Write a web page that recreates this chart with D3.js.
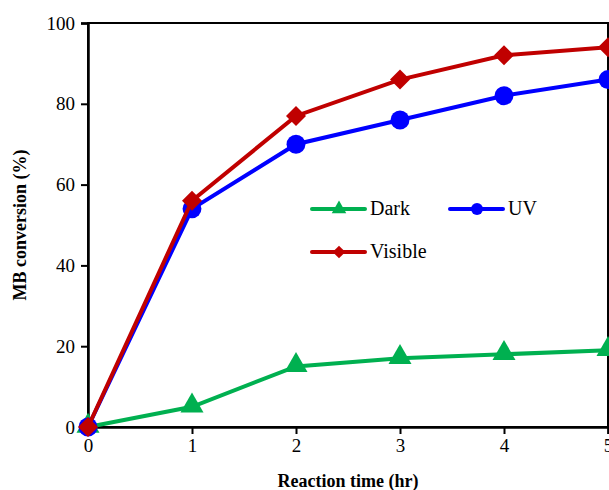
<!DOCTYPE html>
<html>
<head>
<meta charset="utf-8">
<script src="https://cdn.jsdelivr.net/npm/d3@7"></script>
<style>
  body { margin: 0; background: #fff; }
</style>
</head>
<body>
<div id="chart"></div>
<script>
// chart data
const times = [0, 1, 2, 3, 4, 5];
const dark = [0, 5, 15, 17, 18, 19];
const uv = [0, 54, 70, 76, 82, 86];
const visible = [0, 56, 77, 86, 92, 94];
const yTicks = [0, 20, 40, 60, 80, 100];

const width = 609;
const height = 490;
const margin = {left: 88, right: 1, top: 23, bottom: 63};
const serif = "Liberation Serif";

const svg = d3.select("#chart")
  .append("svg")
  .attr("width", width)
  .attr("height", height)
  .style("font-family", serif);

const xScale = d3.scaleLinear()
  .domain([0, 5])
  .range([margin.left, width - margin.right]);

const yScale = d3.scaleLinear()
  .domain([0, 100])
  .range([height - margin.bottom, margin.top]);

// frame
svg.append("rect")
  .attr("x", margin.left)
  .attr("y", margin.top)
  .attr("width", xScale(5) - margin.left)
  .attr("height", yScale(0) - margin.top)
  .attr("fill", "none")
  .attr("stroke", "#000")
  .attr("stroke-width", 2);

// axes
const xAxis = svg.append("g")
  .attr("transform", `translate(0,${yScale(0)})`)
  .call(d3.axisBottom(xScale).tickValues(times).tickSize(7).tickPadding(5).tickFormat(d3.format("d")));

const yAxis = svg.append("g")
  .attr("transform", `translate(${margin.left},0)`)
  .call(d3.axisLeft(yScale).tickValues(yTicks).tickSize(7).tickPadding(6));

[xAxis, yAxis].forEach(g => {
  g.attr("font-family", serif).attr("font-size", 19);
  g.select(".domain").attr("stroke-width", 2.5);
  g.selectAll(".tick line").attr("stroke-width", 2);
  g.selectAll(".tick text")
    .style("font-family", serif)
    .style("font-size", "19px")
    .attr("fill", "#000");
});

// axis titles
svg.append("text")
  .attr("x", (xScale(0) + xScale(5)) / 2)
  .attr("y", 487)
  .attr("text-anchor", "middle")
  .style("font-family", serif)
  .style("font-size", "18px")
  .style("font-weight", "bold")
  .text("Reaction time (hr)");

svg.append("text")
  .attr("transform", `translate(26,${(yScale(0) + yScale(100)) / 2}) rotate(-90)`)
  .attr("text-anchor", "middle")
  .style("font-family", serif)
  .style("font-size", "18px")
  .style("font-weight", "bold")
  .text("MB conversion (%)");

const series = [
  {name: "Dark", values: dark, color: "#00B050", symbol: d3.symbolTriangle, size: 230, rot: 0, dy: -1},
  {name: "UV", values: uv, color: "#0000FF", symbol: d3.symbolCircle, size: 280, rot: 0, dy: 0},
  {name: "Visible", values: visible, color: "#C00000", symbol: d3.symbolSquare, size: 200, rot: 45, dy: 0}
];

const line = d3.line()
  .x((d, i) => xScale(times[i]))
  .y(d => yScale(d));

series.forEach(s => {
  svg.append("path")
    .datum(s.values)
    .attr("fill", "none")
    .attr("stroke", s.color)
    .attr("stroke-width", 4)
    .attr("d", line);

  svg.selectAll(null)
    .data(s.values)
    .enter()
    .append("path")
    .attr("transform", (d, i) => `translate(${xScale(times[i])},${yScale(d) + s.dy}) rotate(${s.rot})`)
    .attr("d", d3.symbol().type(s.symbol).size(s.size))
    .attr("fill", s.color);
});

// legend
const legendPos = [
  {x: 312, y: 209},
  {x: 450, y: 209},
  {x: 312, y: 252}
];

series.forEach((s, i) => {
  const p = legendPos[i];
  const g = svg.append("g").attr("transform", `translate(${p.x},${p.y})`);
  g.append("line")
    .attr("x1", 0).attr("x2", 53)
    .attr("stroke", s.color)
    .attr("stroke-width", 4)
    .attr("stroke-linecap", "round");
  g.append("path")
    .attr("transform", `translate(27,0) rotate(${s.rot})`)
    .attr("d", d3.symbol().type(s.symbol).size(s.size * 0.4))
    .attr("fill", s.color);
  g.append("text")
    .attr("x", 58)
    .attr("y", 6)
    .style("font-family", serif)
    .style("font-size", "20px")
    .text(s.name);
});
</script>
</body>
</html>
